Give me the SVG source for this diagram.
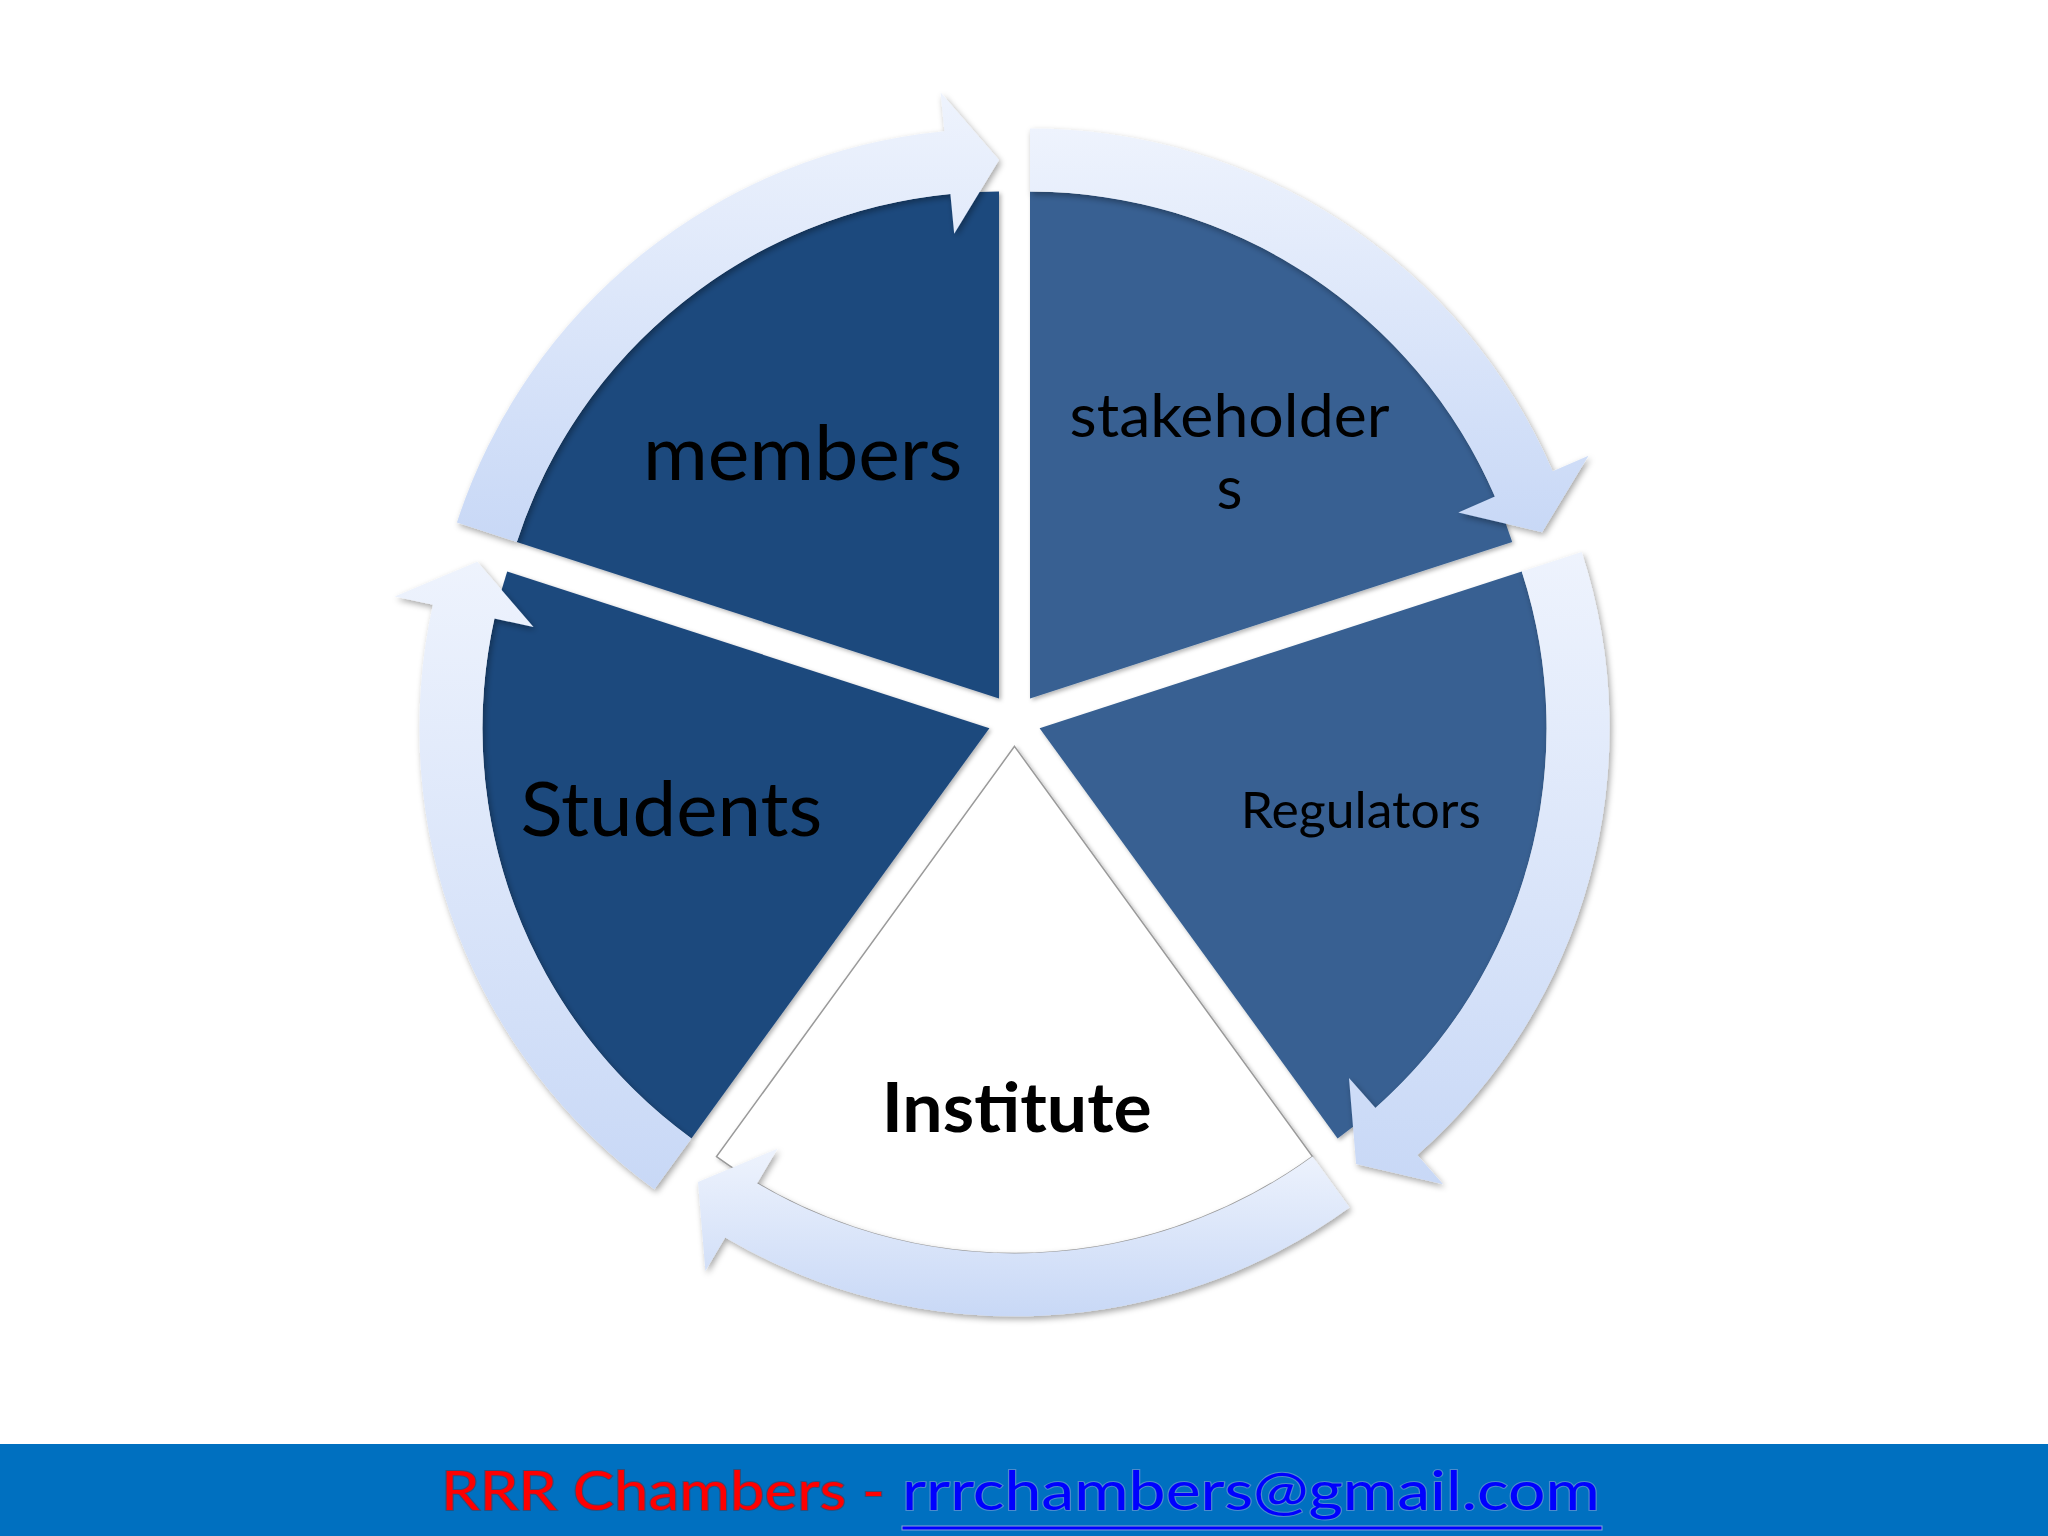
<svg xmlns="http://www.w3.org/2000/svg" width="2048" height="1536" viewBox="0 0 2048 1536">
<defs>
<linearGradient id="arrowGrad" x1="0" y1="0" x2="0" y2="1">
<stop offset="0" stop-color="#eef3fd"/>
<stop offset="1" stop-color="#c8d8f6"/>
</linearGradient>
<filter id="shadow" x="-10%" y="-10%" width="120%" height="120%">
<feDropShadow dx="2" dy="3" stdDeviation="3" flood-color="#000" flood-opacity="0.35"/>
</filter>
<filter id="wshadow" x="-10%" y="-10%" width="120%" height="120%">
<feDropShadow dx="2" dy="2" stdDeviation="2" flood-color="#000" flood-opacity="0.3"/>
</filter>
</defs>
<style>
.dark{fill:#1f497d;filter:url(#wshadow)}
.mid{fill:#376092;filter:url(#wshadow)}
.white{fill:#ffffff;stroke:#9a9a9a;stroke-width:1.5;filter:url(#wshadow)}
.arrow{fill:url(#arrowGrad);filter:url(#shadow)}
.lbl{font-family:Lato,"Open Sans","DejaVu Sans",sans-serif;fill:#000;text-anchor:middle}
.foot{font-family:Lato,"Open Sans","DejaVu Sans",sans-serif;font-size:55px;paint-order:stroke;stroke-width:2;stroke-opacity:0.55}
</style>
<rect x="0" y="0" width="2048" height="1536" fill="#ffffff"/>

<g id="node-stakeholders">
<path class="mid" d="M1030,698.6 L1030,191.6 A507,507 0 0 1 1512.2,541.9 Z"/>
<text class="lbl" x="1229.6" y="437" font-size="60" textLength="320" lengthAdjust="spacingAndGlyphs">stakeholder</text>
<text class="lbl" x="1229.6" y="509" font-size="60">s</text>
</g>
<g id="node-regulators">
<path class="mid" d="M1039.6,728.2 L1521.8,571.5 A507,507 0 0 1 1337.6,1138.4 Z"/>
<text class="lbl" x="1360.8" y="828" font-size="50" textLength="240" lengthAdjust="spacingAndGlyphs">Regulators</text>
</g>
<g id="node-institute">
<path class="white" d="M1014.5,746.4 L1312.5,1156.6 A507,507 0 0 1 716.5,1156.6 Z"/>
</g>
<g id="node-students">
<path class="dark" d="M989.4,728.2 L691.4,1138.4 A507,507 0 0 1 507.2,571.5 Z"/>
<text class="lbl" x="671.4" y="836" font-size="76" textLength="302" lengthAdjust="spacingAndGlyphs">Students</text>
</g>
<g id="node-members">
<path class="dark" d="M999,698.6 L516.8,541.9 A507,507 0 0 1 999,191.6 Z"/>
<text class="lbl" x="802.7" y="480" font-size="76" textLength="319.5" lengthAdjust="spacingAndGlyphs">members</text>
</g>

<g id="connectors">
<path class="arrow" d="M1030,128.6 A570,570 0 0 1 1552.7,471.3 L1588.5,455.8 L1542.1,532.2 L1458.3,512.4 L1494.9,496.4 A507,507 0 0 0 1030,191.6 Z"/>
<path class="arrow" d="M1581.7,552.1 A570,570 0 0 1 1417.3,1155.1 L1443.1,1184.3 L1356.1,1163.9 L1349,1078 L1375.5,1107.9 A507,507 0 0 0 1521.8,571.5 Z"/>
<path class="arrow" d="M1349.5,1207.5 A570,570 0 0 1 725.2,1237.5 L705.4,1271.1 L698,1182.1 L777.5,1148.8 L757.2,1183.2 A507,507 0 0 0 1312.5,1156.6 Z"/>
<path class="arrow" d="M654.4,1189.3 A570,570 0 0 1 432.9,604.8 L394.8,596.4 L477.3,561.8 L533.5,627.1 L494.4,618.5 A507,507 0 0 0 691.4,1138.4 Z"/>
<path class="arrow" d="M456.9,522.5 A570,570 0 0 1 944.4,131.2 L940.6,92.4 L999,160.1 L954.2,233.7 L950.4,193.9 A507,507 0 0 0 516.8,541.9 Z"/>
</g>

<g id="node-institute-label">
<text class="lbl" x="1016.7" y="1132" font-size="68" font-weight="bold" textLength="270" lengthAdjust="spacingAndGlyphs">Institute</text>
</g>

<g id="footer">
<rect x="0" y="1444" width="2048" height="92" fill="#0070c0"/>
<text class="foot" x="441" y="1510" fill="#ff0000" stroke="#5a3040" textLength="444" lengthAdjust="spacingAndGlyphs">RRR Chambers -</text>
<text class="foot" x="902" y="1510" fill="#0000ff" stroke="#8aa0d8" textLength="698" lengthAdjust="spacingAndGlyphs">rrrchambers@gmail.com</text>
<rect x="902" y="1526" width="700" height="4" fill="#0000ff" stroke="#8aa0d8" stroke-width="1"/>
</g>
</svg>
